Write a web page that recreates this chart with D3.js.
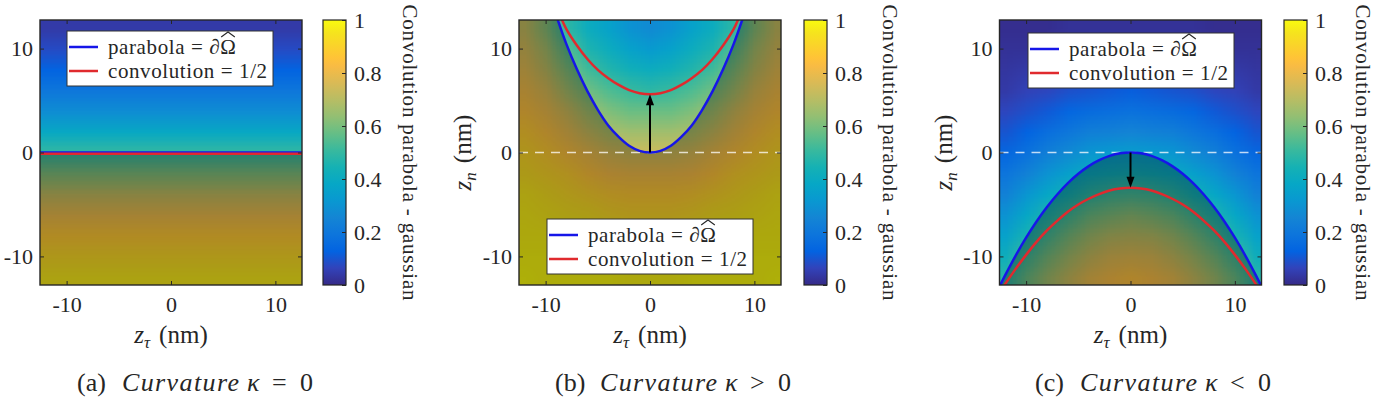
<!DOCTYPE html>
<html>
<head>
<meta charset="utf-8">
<script src="https://cdn.jsdelivr.net/npm/d3@7"></script>
<style>
  body { margin: 0; background: #fff; }
</style>
</head>
<body>
<svg id="chart" width="1377" height="404"></svg>
<script>
// sampling grid of the convolution maps (nm)
const zTau = [-12, -10, -8, -6, -4, -2, 0, 2, 4, 6, 8, 10, 12];
const zN = [12, 10, 8, 6, 4, 2, 0, -2, -4, -6, -8, -10, -12];

// (a) flat interface, the value only changes along z_n (rows follow zN)
const convFlat = [0.04, 0.08, 0.13, 0.20, 0.28, 0.39, 0.50, 0.61, 0.72, 0.80, 0.87, 0.92, 0.96];

// (b) kappa > 0, rows follow zN, columns follow zTau
const convPos = [
  [0.72, 0.62, 0.49, 0.41, 0.36, 0.30, 0.27, 0.30, 0.36, 0.41, 0.49, 0.62, 0.72],
  [0.75, 0.67, 0.55, 0.46, 0.41, 0.36, 0.33, 0.36, 0.41, 0.46, 0.55, 0.67, 0.75],
  [0.78, 0.71, 0.61, 0.52, 0.47, 0.43, 0.41, 0.43, 0.47, 0.52, 0.61, 0.71, 0.78],
  [0.81, 0.76, 0.67, 0.59, 0.54, 0.51, 0.49, 0.51, 0.54, 0.59, 0.67, 0.76, 0.81],
  [0.84, 0.80, 0.74, 0.66, 0.61, 0.58, 0.58, 0.58, 0.61, 0.66, 0.74, 0.80, 0.84],
  [0.88, 0.84, 0.79, 0.73, 0.68, 0.66, 0.66, 0.66, 0.68, 0.73, 0.79, 0.84, 0.88],
  [0.91, 0.88, 0.84, 0.80, 0.76, 0.74, 0.74, 0.74, 0.76, 0.80, 0.84, 0.88, 0.91],
  [0.93, 0.91, 0.89, 0.85, 0.82, 0.81, 0.81, 0.81, 0.82, 0.85, 0.89, 0.91, 0.93],
  [0.96, 0.94, 0.92, 0.90, 0.88, 0.87, 0.87, 0.87, 0.88, 0.90, 0.92, 0.94, 0.96],
  [0.97, 0.96, 0.95, 0.94, 0.92, 0.91, 0.91, 0.91, 0.92, 0.94, 0.95, 0.96, 0.97],
  [0.98, 0.98, 0.97, 0.96, 0.95, 0.95, 0.94, 0.95, 0.95, 0.96, 0.97, 0.98, 0.98],
  [0.99, 0.99, 0.98, 0.98, 0.97, 0.97, 0.97, 0.97, 0.97, 0.98, 0.98, 0.99, 0.99],
  [1.00, 0.99, 0.99, 0.99, 0.99, 0.98, 0.98, 0.98, 0.99, 0.99, 0.99, 0.99, 1.00]
];

// (c) kappa < 0, rows follow zN, columns follow zTau
const convNeg = [
  [0.01, 0.01, 0.01, 0.02, 0.02, 0.02, 0.02, 0.02, 0.02, 0.02, 0.01, 0.01, 0.01],
  [0.02, 0.02, 0.03, 0.03, 0.04, 0.04, 0.04, 0.04, 0.04, 0.03, 0.03, 0.02, 0.02],
  [0.03, 0.04, 0.05, 0.06, 0.06, 0.07, 0.07, 0.07, 0.06, 0.06, 0.05, 0.04, 0.03],
  [0.04, 0.06, 0.07, 0.09, 0.10, 0.11, 0.12, 0.11, 0.10, 0.09, 0.07, 0.06, 0.04],
  [0.07, 0.09, 0.11, 0.14, 0.16, 0.17, 0.18, 0.17, 0.16, 0.14, 0.11, 0.09, 0.07],
  [0.10, 0.13, 0.17, 0.20, 0.23, 0.24, 0.25, 0.24, 0.23, 0.20, 0.17, 0.13, 0.10],
  [0.14, 0.18, 0.23, 0.27, 0.31, 0.33, 0.34, 0.33, 0.31, 0.27, 0.23, 0.18, 0.14],
  [0.19, 0.24, 0.30, 0.35, 0.40, 0.42, 0.43, 0.42, 0.40, 0.35, 0.30, 0.24, 0.19],
  [0.24, 0.31, 0.38, 0.44, 0.49, 0.52, 0.53, 0.52, 0.49, 0.44, 0.38, 0.31, 0.24],
  [0.30, 0.38, 0.46, 0.52, 0.58, 0.61, 0.63, 0.61, 0.58, 0.52, 0.46, 0.38, 0.30],
  [0.36, 0.45, 0.53, 0.60, 0.66, 0.70, 0.71, 0.70, 0.66, 0.60, 0.53, 0.45, 0.36],
  [0.42, 0.52, 0.60, 0.67, 0.73, 0.77, 0.78, 0.77, 0.73, 0.67, 0.60, 0.52, 0.42],
  [0.48, 0.58, 0.66, 0.73, 0.79, 0.82, 0.84, 0.82, 0.79, 0.73, 0.66, 0.58, 0.48]
];

// boundary (blue) and 1/2 level (red) curves
const flatParaT = [-12.55, 12.55];
const flatParaN = [0, 0];
const flatConvT = [-12.55, 12.55];
const flatConvN = [-0.12, -0.12];

const posParaT = [-8.85, -8, -7, -6, -5, -4, -3, -2, -1, 0, 1, 2, 3, 4, 5, 6, 7, 8, 8.85];
const posParaN = [12.8, 10.4, 8.0, 5.9, 4.1, 2.6, 1.5, 0.65, 0.16, 0, 0.16, 0.65, 1.5, 2.6, 4.1, 5.9, 8.0, 10.4, 12.8];
const posConvT = [-8.45, -8, -7, -6, -5, -4, -3, -2, -1, 0, 1, 2, 3, 4, 5, 6, 7, 8, 8.45];
const posConvN = [12.8, 11.85, 10.3, 9.0, 7.95, 7.15, 6.5, 6.0, 5.7, 5.6, 5.7, 6.0, 6.5, 7.15, 7.95, 9.0, 10.3, 11.85, 12.8];

const negParaT = [-12.5, -12, -11, -10, -9, -8, -7, -6, -5, -4, -3, -2, -1, 0, 1, 2, 3, 4, 5, 6, 7, 8, 9, 10, 11, 12, 12.5];
const negParaN = [-12.8, -11.8, -9.92, -8.2, -6.64, -5.25, -4.02, -2.95, -2.05, -1.31, -0.74, -0.33, -0.08, 0,
                  -0.08, -0.33, -0.74, -1.31, -2.05, -2.95, -4.02, -5.25, -6.64, -8.2, -9.92, -11.8, -12.8];
const negConvT = [-12.1, -12, -11, -10, -9, -8, -7, -6, -5, -4, -3, -2, -1, 0, 1, 2, 3, 4, 5, 6, 7, 8, 9, 10, 11, 12, 12.1];
const negConvN = [-12.8, -12.65, -11.2, -9.85, -8.6, -7.5, -6.55, -5.7, -5.0, -4.45, -4.0, -3.66, -3.47, -3.4,
                  -3.47, -3.66, -4.0, -4.45, -5.0, -5.7, -6.55, -7.5, -8.6, -9.85, -11.2, -12.65, -12.8];

// arrows from the parabola apex to the 1/2 level: [zTau, zN from, zN to]
const posArrow = [0, 0, 5.6];
const negArrow = [0, 0, -3.4];

const axisTicks = [-10, 0, 10];
const cbarTicks = [0, 0.2, 0.4, 0.6, 0.8, 1];
const cbarTickLabels = ["0", "0.2", "0.4", "0.6", "0.8", "1"];
const legendLabels = ["parabola = \u2202\u03A9", "convolution = 1/2"];
const cbarTitle = "Convolution parabola - gaussian";
const captionTags = ["(a)", "(b)", "(c)"];
const captionRel = ["=", ">", "<"];

// MATLAB parula colormap
const parulaHex = ["#352a87", "#3243ba", "#0363e1", "#0d75dc", "#1485d4", "#0998d1", "#06a7c6", "#15b1b4",
                   "#38b99e", "#65be86", "#92bf73", "#b7bd64", "#d9ba56", "#f8bb44", "#ffc337", "#fcce2e", "#f5e41d", "#f9fb0e"];
const parulaPos = [0, 4, 8, 12, 16, 20, 24, 28, 32, 36, 40, 44, 48, 52, 54, 56, 60, 63].map(i => i / 63);
const color = d3.scaleLinear().domain(parulaPos).range(parulaHex).clamp(true);

const FONT = '"Liberation Serif", "Times New Roman", serif';
const svg = d3.select("#chart").style("font-family", FONT);
const defs = svg.append("defs");

const xDom = [-12.55, 12.55], yDom = [-12.75, 12.75];
const plotTop = 20, plotBottom = 285, plotW = 262, cbW = 23;
const ink = "#262626";
const blue = "#1616e8", red = "#e02a2e";

// colour map image from a small grid, smoothed by the browser when stretched
function fieldURL(rows) {
  const nr = rows.length, nc = rows[0].length;
  const cv = document.createElement("canvas");
  cv.width = nc; cv.height = nr;
  const ctx = cv.getContext("2d");
  const img = ctx.createImageData(nc, nr);
  rows.forEach((row, j) => row.forEach((v, i) => {
    const c = d3.rgb(color(v));
    const k = 4 * (j * nc + i);
    img.data[k] = c.r; img.data[k + 1] = c.g; img.data[k + 2] = c.b; img.data[k + 3] = 255;
  }));
  ctx.putImageData(img, 0, 0);
  return cv.toDataURL();
}

// text helper with an explicit serif face
function txt(sel, size) {
  return sel.append("text").style("font-family", FONT).style("font-size", size + "px").style("fill", ink);
}

// vertical gradient for the colorbars
const grad = defs.append("linearGradient").attr("id", "parula")
  .attr("x1", 0).attr("y1", 1).attr("x2", 0).attr("y2", 0);
parulaPos.forEach((p, i) => grad.append("stop").attr("offset", p).attr("stop-color", parulaHex[i]));

const panels = [
  { key: "a", left: 40, cb: 323, cbLab: 410, legend: [67, 31], capX: 77, ylabel: false, dashed: false,
    field: convFlat.map(v => [v]), extT: xDom, paraT: flatParaT, paraN: flatParaN,
    convT: flatConvT, convN: flatConvN, arrow: null, corners: [[1, 0], [0, 0]] },
  { key: "b", left: 519, cb: 804, cbLab: 890, legend: [547, 219], capX: 555, ylabel: true, dashed: true,
    field: convPos, extT: [zTau[0] - 1, zTau[zTau.length - 1] + 1], paraT: posParaT, paraN: posParaN,
    convT: posConvT, convN: posConvN, arrow: posArrow, corners: [[1, 1], [1, 0], [0, 0], [0, 1]] },
  { key: "c", left: 999.5, cb: 1284, cbLab: 1363, legend: [1028, 33], capX: 1035, ylabel: true, dashed: true,
    field: convNeg, extT: [zTau[0] - 1, zTau[zTau.length - 1] + 1], paraT: negParaT, paraN: negParaN,
    convT: negConvT, convN: negConvN, arrow: negArrow, corners: [] }
];

panels.forEach((p, pi) => {
  const x = d3.scaleLinear().domain(xDom).range([p.left, p.left + plotW]);
  const y = d3.scaleLinear().domain(yDom).range([plotBottom, plotTop]);
  const g = svg.append("g");

  const clipId = "clip-" + p.key;
  defs.append("clipPath").attr("id", clipId).append("rect")
    .attr("x", x(xDom[0])).attr("y", y(yDom[1]))
    .attr("width", x(xDom[1]) - x(xDom[0])).attr("height", y(yDom[0]) - y(yDom[1]));
  const plot = g.append("g").attr("clip-path", `url(#${clipId})`);

  const extN = [zN[zN.length - 1] - 1, zN[0] + 1];
  plot.append("image")
    .attr("href", fieldURL(p.field))
    .attr("preserveAspectRatio", "none")
    .attr("x", x(p.extT[0])).attr("width", x(p.extT[1]) - x(p.extT[0]))
    .attr("y", y(extN[1])).attr("height", y(extN[0]) - y(extN[1]));

  const line = d3.line().x(d => x(d[0])).y(d => y(d[1])).curve(d3.curveCatmullRom);
  const paraPts = d3.zip(p.paraT, p.paraN);
  const convPts = d3.zip(p.convT, p.convN);

  // shade the domain Omega (below the parabola)
  const shade = line(paraPts) +
    p.corners.map(c => `L${x(xDom[c[0]])},${y(yDom[c[1]])}`).join("") + "Z";
  plot.append("path").attr("d", shade).attr("fill", "#000").attr("fill-opacity", 0.3);

  if (p.dashed) {
    plot.append("line")
      .attr("x1", x(xDom[0])).attr("x2", x(xDom[1]))
      .attr("y1", y(0)).attr("y2", y(0))
      .attr("stroke", "#fff").attr("stroke-opacity", 0.75)
      .attr("stroke-width", 1.6).attr("stroke-dasharray", "9,7");
  }

  plot.append("path").attr("d", line(paraPts)).attr("fill", "none")
    .attr("stroke", blue).attr("stroke-width", 2.5);
  plot.append("path").attr("d", line(convPts)).attr("fill", "none")
    .attr("stroke", red).attr("stroke-width", 2.5);

  if (p.arrow) {
    const x0 = x(p.arrow[0]), y0 = y(p.arrow[1]), y1 = y(p.arrow[2]);
    const dir = Math.sign(y1 - y0);
    plot.append("line").attr("x1", x0).attr("x2", x0)
      .attr("y1", y0).attr("y2", y1 - dir * 8)
      .attr("stroke", "#000").attr("stroke-width", 2);
    plot.append("path")
      .attr("d", `M${x0},${y1}L${x0 - 4},${y1 - dir * 11}L${x0 + 4},${y1 - dir * 11}Z`)
      .attr("fill", "#000");
  }

  // axes with inward ticks
  const styleAxis = sel => {
    sel.attr("color", ink);
    sel.selectAll("text").style("font-family", FONT).style("font-size", "22px");
    sel.select(".domain").remove();
  };
  g.append("g").attr("transform", `translate(0,${plotBottom})`)
    .call(d3.axisBottom(x).tickValues(axisTicks).tickSize(-4).tickPadding(11).tickFormat(d => String(d)))
    .call(styleAxis);
  g.append("g").attr("transform", `translate(0,${plotTop})`)
    .call(d3.axisTop(x).tickValues(axisTicks).tickSize(-4).tickFormat(""))
    .call(styleAxis);
  g.append("g").attr("transform", `translate(${p.left},0)`)
    .call(d3.axisLeft(y).tickValues(axisTicks).tickSize(-4).tickPadding(7).tickFormat(d => String(d)))
    .call(styleAxis);
  g.append("g").attr("transform", `translate(${p.left + plotW},0)`)
    .call(d3.axisRight(y).tickValues(axisTicks).tickSize(-4).tickFormat(""))
    .call(styleAxis);
  g.append("rect")
    .attr("x", x(xDom[0])).attr("y", y(yDom[1]))
    .attr("width", x(xDom[1]) - x(xDom[0])).attr("height", y(yDom[0]) - y(yDom[1]))
    .attr("fill", "none").attr("stroke", ink).attr("stroke-width", 1.4);

  // legend
  const [lx, ly] = p.legend;
  const lg = g.append("g");
  lg.append("rect").attr("x", lx).attr("y", ly).attr("width", 206).attr("height", 55)
    .attr("fill", "#fff").attr("stroke", "#333").attr("stroke-width", 1);
  [blue, red].forEach((c, i) => {
    const ry = ly + 16 + i * 24;
    lg.append("line").attr("x1", lx + 2).attr("x2", lx + 31).attr("y1", ry).attr("y2", ry)
      .attr("stroke", c).attr("stroke-width", 2.5);
    const t = txt(lg, 21).attr("x", lx + 41).attr("y", ry + 7)
      .attr("letter-spacing", 0.6).text(legendLabels[i]);
    if (i === 0) {
      const node = t.node();
      const e = node.getExtentOfChar(node.getNumberOfChars() - 1);
      const hy = ry + 7 - 15;
      lg.append("path")
        .attr("d", `M${e.x + 1},${hy - 2}L${e.x + e.width / 2 - 0.3},${hy - 7}L${e.x + e.width - 1.6},${hy - 2}`)
        .attr("fill", "none").attr("stroke", ink).attr("stroke-width", 1.1);
    }
  });

  // colorbar
  const cs = d3.scaleLinear().domain([0, 1]).range([plotBottom, plotTop]);
  g.append("rect").attr("x", p.cb).attr("y", plotTop).attr("width", cbW).attr("height", plotBottom - plotTop)
    .attr("fill", "url(#parula)");
  g.append("g").attr("transform", `translate(${p.cb + cbW},0)`)
    .call(d3.axisRight(cs).tickValues(cbarTicks).tickSize(-4).tickPadding(8).tickFormat((d, i) => cbarTickLabels[i]))
    .call(styleAxis);
  g.append("rect").attr("x", p.cb).attr("y", plotTop).attr("width", cbW).attr("height", plotBottom - plotTop)
    .attr("fill", "none").attr("stroke", ink).attr("stroke-width", 1.2);
  txt(g, 21)
    .attr("transform", `translate(${p.cbLab},${(plotTop + plotBottom) / 2}) rotate(90)`)
    .attr("text-anchor", "middle").attr("dominant-baseline", "central")
    .attr("textLength", 296).attr("lengthAdjust", "spacing")
    .text(cbarTitle);

  // axis labels
  const xl = txt(g, 25).attr("x", x(0)).attr("y", 343).attr("text-anchor", "middle");
  xl.append("tspan").style("font-style", "italic").text("z");
  xl.append("tspan").style("font-style", "italic").style("font-size", "17px").attr("dy", 5).text("\u03C4");
  xl.append("tspan").attr("dy", -5).attr("dx", 9).text("(nm)");

  if (p.ylabel) {
    const yl = txt(g, 25)
      .attr("transform", `translate(${p.left - 48},${(plotTop + plotBottom) / 2}) rotate(-90)`)
      .attr("text-anchor", "middle");
    yl.append("tspan").style("font-style", "italic").text("z");
    yl.append("tspan").style("font-style", "italic").style("font-size", "17px").attr("dy", 5).text("n");
    yl.append("tspan").attr("dy", -5).attr("dx", 9).text("(nm)");
  }

  // caption
  const cy = 391;
  txt(g, 26).attr("x", p.capX).attr("y", cy).text(captionTags[pi]);
  txt(g, 26).attr("x", p.capX + 45).attr("y", cy).style("font-style", "italic")
    .attr("textLength", 117).attr("lengthAdjust", "spacing").text("Curvature");
  txt(g, 26).attr("x", p.capX + 170).attr("y", cy).style("font-style", "italic").text("\u03BA");
  txt(g, 26).attr("x", p.capX + 195).attr("y", cy).text(captionRel[pi]);
  txt(g, 26).attr("x", p.capX + 223).attr("y", cy).text("0");
});
</script>
</body>
</html>
